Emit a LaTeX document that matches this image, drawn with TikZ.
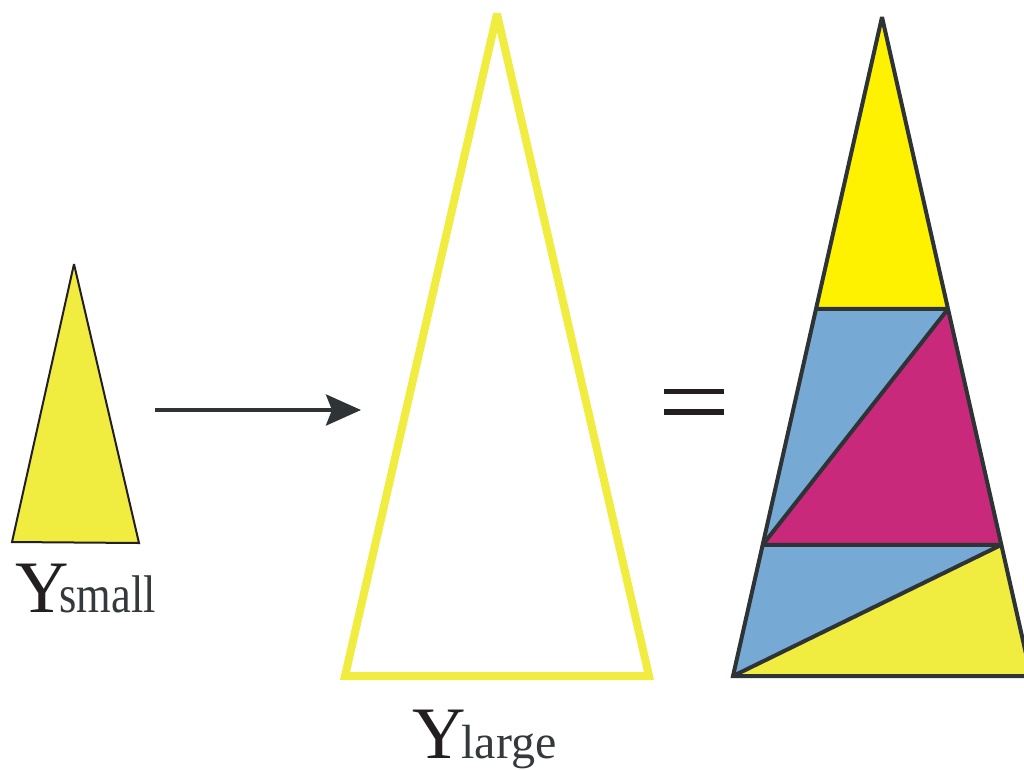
\documentclass[tikz,border=0pt]{standalone}
\usepackage{fontspec}
\setmainfont{Liberation Serif}
\newfontfamily\condserif[FakeStretch=0.84]{Liberation Serif}
\usetikzlibrary{arrows.meta,calc}
\definecolor{ink}{HTML}{2E3336}
\definecolor{blackY}{HTML}{231F20}
\definecolor{subgrey}{HTML}{35393C}
\definecolor{paleyellow}{HTML}{F1EC40}
\definecolor{brightyellow}{HTML}{FFF200}
\definecolor{bluefill}{HTML}{76A9D4}
\definecolor{magentafill}{HTML}{C8297A}
\tikzset{
  lbl/.style={inner sep=0pt, anchor=base west, text depth=0pt},
  edge/.style={draw=ink, line width=4pt, line join=miter, miter limit=2},
}
\newcommand{\bigY}{{\fontsize{74}{74}\selectfont\color{blackY}Y}}
\begin{document}
\begin{tikzpicture}[x=1pt,y=-1pt]
\useasboundingbox (0,0) rectangle (1024,769);
\clip (0,0) rectangle (1024,769);

% small triangle
\filldraw[fill=paleyellow, draw=blackY, line width=2pt, line join=miter, miter limit=3]
  (74,264) -- (139,543) -- (12,542) -- cycle;
\node[lbl] (ysmall) at (15,612) {\bigY\kern-9pt{\fontsize{53}{53}\condserif\color{subgrey}small}};

% arrow
\coordinate (arrS) at (155,410);
\coordinate (arrE) at (361,410);
\draw[ink, line width=4pt, -{Stealth[length=35pt, width=31pt, inset=6pt]}] (arrS) -- (arrE);

% large outline triangle
\draw[paleyellow, line width=8pt, line join=miter, miter limit=2]
  (497,14) -- (649,676) -- (345,676) -- cycle;
\node[lbl] (ylarge) at (412,758) {\bigY\kern-4pt{\fontsize{48}{48}\selectfont\color{subgrey}large}};

% equals sign
\draw[blackY, line width=5.5pt] (664,391.5) -- (724,391.5);
\draw[blackY, line width=5.5pt] (664,412) -- (724,412);

% decomposed triangle
\coordinate (T) at (882,17);
\coordinate (BL) at (733,676);
\coordinate (BR) at (1031,676);
\coordinate (L1) at ($(T)!0.443!(BL)$);
\coordinate (R1) at ($(T)!0.443!(BR)$);
\coordinate (L2) at ($(T)!0.801!(BL)$);
\coordinate (R2) at ($(T)!0.801!(BR)$);

\fill[brightyellow] (T) -- (R1) -- (L1) -- cycle;
\fill[bluefill] (L1) -- (R1) -- (L2) -- cycle;
\fill[magentafill] (R1) -- (R2) -- (L2) -- cycle;
\fill[bluefill] (L2) -- (R2) -- (BL) -- cycle;
\fill[paleyellow] (R2) -- (BR) -- (BL) -- cycle;

\draw[edge] (T) -- (BR) -- (BL) -- cycle;
\draw[edge] (L1) -- (R1) -- (L2) -- (R2) -- (BL);
\end{tikzpicture}
\end{document}
